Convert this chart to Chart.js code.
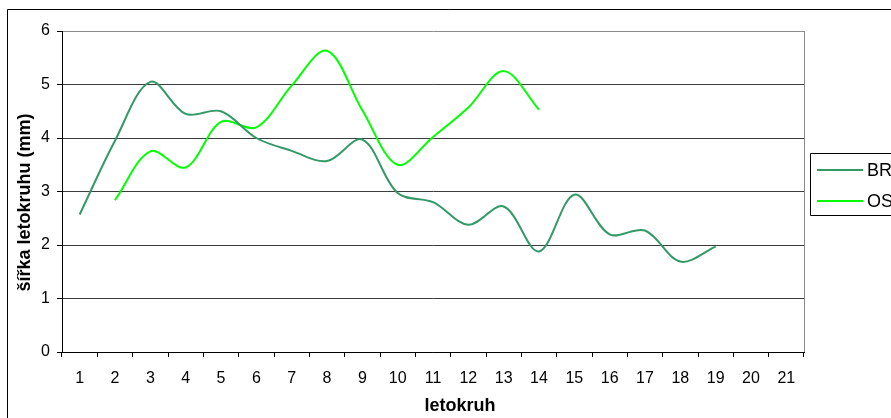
<!DOCTYPE html>
<html>
<head>
<meta charset="utf-8">
<script src="https://cdn.jsdelivr.net/npm/chart.js@4/dist/chart.umd.min.js"></script>
<style>
  html, body { margin: 0; padding: 0; background: #fff; overflow: hidden; }
  #wrap { position: relative; width: 891px; height: 418px; }
</style>
</head>
<body>
<div id="wrap"><canvas id="c" width="891" height="418"></canvas></div>
<script>
// Tree-ring widths (mm) per ring number
const rings = ['1','2','3','4','5','6','7','8','9','10','11','12','13','14','15','16','17','18','19','20','21'];
const brWidths = [2.57, 3.95, 5.05, 4.45, 4.5, 4.0, 3.76, 3.57, 3.97, 2.97, 2.8, 2.38, 2.72, 1.88, 2.94, 2.2, 2.27, 1.69, 1.97, null, null];
const osWidths = [null, 2.84, 3.75, 3.45, 4.3, 4.2, 4.98, 5.63, 4.52, 3.5, 4.02, 4.57, 5.25, 4.53, null, null, null, null, null, null, null];
const yTicks = [0, 1, 2, 3, 4, 5, 6];
const seriesNames = ['BR', 'OS'];
const seriesColors = ['#339966', '#00ff00'];
const xTitle = 'letokruh';
const yTitle = 'šířka letokruhu (mm)';

const FONT = '"Liberation Sans", Arial, sans-serif';

// Outer chart frame, plot-area edge, axis titles and legend
const decorations = {
  id: 'decorations',
  beforeDraw(chart) {
    const ctx = chart.ctx;
    ctx.save();
    ctx.fillStyle = '#fff';
    ctx.fillRect(0, 0, chart.width, chart.height);
    ctx.strokeStyle = '#000';
    ctx.lineWidth = 1;
    ctx.beginPath();
    ctx.moveTo(7.5, chart.height + 2);
    ctx.lineTo(7.5, 9.5);
    ctx.lineTo(chart.width + 2, 9.5);
    ctx.stroke();
    ctx.restore();
  },
  beforeDatasetsDraw(chart) {
    const ctx = chart.ctx;
    const a = chart.chartArea;
    ctx.save();
    ctx.strokeStyle = '#8c8c8c';
    ctx.lineWidth = 1;
    ctx.beginPath();
    ctx.moveTo(Math.round(a.right) + 0.5, a.top);
    ctx.lineTo(Math.round(a.right) + 0.5, a.bottom);
    ctx.stroke();
    ctx.restore();
  },
  afterDraw(chart) {
    const ctx = chart.ctx;
    ctx.save();
    ctx.fillStyle = '#000';
    // axis titles
    ctx.font = 'bold 18px ' + FONT;
    ctx.textAlign = 'center';
    ctx.textBaseline = 'alphabetic';
    ctx.fillText(xTitle, 460, 410.5);
    ctx.save();
    ctx.translate(29.5, 202.5);
    ctx.rotate(-Math.PI / 2);
    ctx.fillText(yTitle, 0, 0);
    ctx.restore();
    // legend
    ctx.strokeStyle = '#000';
    ctx.lineWidth = 1;
    ctx.beginPath();
    ctx.moveTo(chart.width + 2, 153.5);
    ctx.lineTo(810.5, 153.5);
    ctx.lineTo(810.5, 215.5);
    ctx.lineTo(chart.width + 2, 215.5);
    ctx.stroke();
    ctx.font = '18px ' + FONT;
    ctx.textAlign = 'left';
    ctx.textBaseline = 'middle';
    const rowsY = [170, 201];
    chart.data.datasets.forEach((ds, i) => {
      ctx.strokeStyle = ds.borderColor;
      ctx.lineWidth = 2;
      ctx.beginPath();
      ctx.moveTo(817, rowsY[i]);
      ctx.lineTo(863, rowsY[i]);
      ctx.stroke();
      ctx.fillStyle = '#000';
      ctx.fillText(ds.label, 867, rowsY[i] + 1);
    });
    ctx.restore();
  }
};

new Chart(document.getElementById('c'), {
  type: 'line',
  data: {
    labels: rings,
    datasets: [
      { label: seriesNames[0], data: brWidths, borderColor: seriesColors[0], backgroundColor: seriesColors[0] },
      { label: seriesNames[1], data: osWidths, borderColor: seriesColors[1], backgroundColor: seriesColors[1] }
    ]
  },
  options: {
    responsive: false,
    animation: false,
    devicePixelRatio: 1,
    layout: { padding: { left: 0, top: 31, right: 87, bottom: 0 } },
    elements: {
      line: { borderWidth: 2, tension: 0.34, fill: false },
      point: { radius: 0, hoverRadius: 0 }
    },
    plugins: {
      legend: { display: false },
      tooltip: { enabled: false }
    },
    scales: {
      x: {
        type: 'category',
        offset: true,
        afterFit(s) { s.height = 66; },
        grid: {
          display: true,
          offset: true,
          drawOnChartArea: false,
          drawTicks: true,
          tickLength: 5,
          color: '#000',
          tickColor: '#000'
        },
        border: { display: true, color: '#000', width: 1 },
        ticks: {
          color: '#000',
          font: { family: FONT, size: 16 },
          padding: 12,
          maxRotation: 0,
          autoSkip: false
        }
      },
      y: {
        min: yTicks[0],
        max: yTicks[yTicks.length - 1],
        afterFit(s) { s.width = 62; },
        afterBuildTicks(s) { s.ticks = yTicks.map(v => ({ value: v })); },
        grid: {
          color: (c) => (c.tick && c.tick.value === 6) ? '#8c8c8c' : '#3c3c3c',
          tickColor: '#000',
          tickLength: 5,
          lineWidth: 1
        },
        border: { display: true, color: '#000', width: 1 },
        ticks: {
          color: '#000',
          font: { family: FONT, size: 16 },
          padding: 7
        }
      }
    }
  },
  plugins: [decorations]
});
</script>
</body>
</html>
